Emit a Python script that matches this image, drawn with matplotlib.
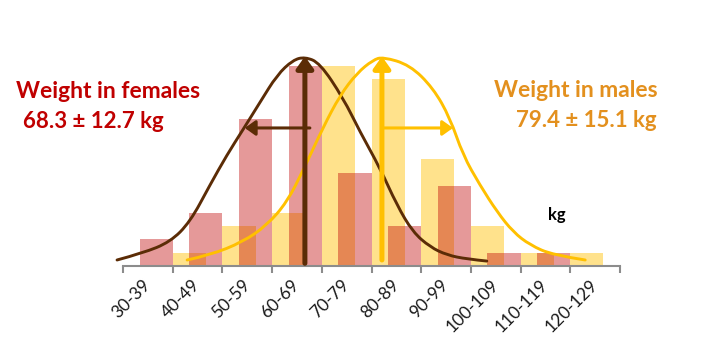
import matplotlib.pyplot as plt
from matplotlib.path import Path
from matplotlib.patches import PathPatch
import numpy as np

plt.rcParams['font.family'] = ['Lato', 'DejaVu Sans']

categories = ['30-39', '40-49', '50-59', '60-69', '70-79', '80-89',
              '90-99', '100-109', '110-119', '120-129']
females = [2, 4, 11, 15, 7, 3, 6, 1, 1, 0]
males = [0, 1, 3, 4, 15, 14, 8, 3, 1, 1]

# fitted curves as drawn (kg, count)
fem_curve_kg = [28.8, 34.0, 39.5, 43.5, 47.5, 50.9, 54.1, 57.6, 61.0, 64.2, 66.6,
                69.6, 74.3, 77.7, 81.7, 85.1, 88.3, 91.8, 95.2, 99.2, 103.2]
fem_curve_n = [0.45, 0.97, 1.80, 3.30, 6.07, 8.31, 10.19, 12.28, 14.31, 15.43, 15.66,
               15.21, 12.58, 10.04, 7.34, 4.57, 2.55, 1.42, 0.82, 0.52, 0.37]
male_curve_kg = [42.9, 47.5, 54.1, 59.0, 63.0, 66.3, 70.2, 73.7, 77.1, 80.3, 82.3,
                 87.7, 92.4, 95.8, 98.4, 101.8, 105.3, 108.5, 111.9, 116.5, 123.0]
male_curve_n = [0.45, 0.82, 1.80, 3.07, 4.79, 7.20, 10.34, 12.81, 14.46, 15.43, 15.66,
                15.06, 13.33, 11.09, 8.31, 6.07, 4.04, 2.55, 1.57, 0.82, 0.45]

# mean and +1 sd markers as drawn (kg)
fem_peak, fem_sd_end = 66.6, 54.5
male_peak, male_sd_end = 82.1, 96.4
sd_level = 10.34

brown = '#5B2C06'
gold = '#FFC000'

def pos(kg):
    return (np.array(kg) - 30) / 10.0

def smooth_line(xs, ys, col):
    pts = np.column_stack([xs, ys])
    verts = [pts[0]]
    codes = [Path.MOVETO]
    for i in range(1, len(pts) - 1):
        end = pts[i + 1] if i == len(pts) - 2 else (pts[i] + pts[i + 1]) / 2
        verts += [pts[i], end]
        codes += [Path.CURVE3, Path.CURVE3]
    ax.add_patch(PathPatch(Path(verts, codes), fill=False, edgecolor=col,
                           lw=2.1, capstyle='round'))

fig = plt.figure(figsize=(7.25, 3.54), dpi=100)
ax = fig.add_axes([100 / 725, 88 / 354, 550 / 725, 226 / 354])

idx = np.arange(len(categories))
ax.bar(idx, males, width=2 / 3, align='edge', color=gold, alpha=0.45, lw=0)
ax.bar(idx + 1 / 3, females, width=2 / 3, align='edge', color='#C00000', alpha=0.4, lw=0)

smooth_line(pos(fem_curve_kg), fem_curve_n, brown)
smooth_line(pos(male_curve_kg), male_curve_n, gold)

def arrow(x0, y0, x1, y1, col, lw, hw):
    ax.annotate('', xy=(x1, y1), xytext=(x0, y0),
                arrowprops=dict(arrowstyle='-|>,head_length=%s,head_width=%s' % (hw * 1.4, hw),
                                lw=lw, color=col, shrinkA=0, shrinkB=0, mutation_scale=10))

arrow(pos(fem_peak), 0.2, pos(fem_peak), 15.7, brown, 3.6, 0.5)
arrow(pos(fem_peak) + 0.1, sd_level, pos(fem_sd_end), sd_level, brown, 2.2, 0.45)
arrow(pos(male_peak), 0.45, pos(male_peak), 15.7, gold, 3.6, 0.5)
arrow(pos(male_peak) + 0.04, sd_level, pos(male_sd_end), sd_level, gold, 2.2, 0.45)

ax.set_xlim(-23 / 49.7, 527 / 49.7)
ax.set_ylim(0, 226 / 13.35)
for s in ['left', 'top', 'right']:
    ax.spines[s].set_visible(False)
ax.spines['bottom'].set_bounds(0, len(categories))
ax.spines['bottom'].set_color('#8C8C8C')
ax.spines['bottom'].set_linewidth(1.5)
ax.set_yticks([])
ax.set_xticks(idx + 0.5)
ax.set_xticklabels(categories, rotation=45, ha='right', va='center',
                   rotation_mode='anchor', fontsize=12.5, color='#1A1A1A')
ax.tick_params(axis='x', length=0, pad=12)
ax.set_xticks(np.arange(len(categories) + 1), minor=True)
ax.tick_params(axis='x', which='minor', length=5, width=1.5, color='#8C8C8C')

fig.text(16 / 725, 1 - 98 / 354, 'Weight in females', color='#C00000',
         fontsize=16.5, fontweight='bold', ha='left', va='baseline')
fig.text(23 / 725, 1 - 128 / 354, '68.3 \u00b1 12.7 kg', color='#C00000',
         fontsize=16, fontweight='bold', ha='left', va='baseline')
fig.text(658 / 725, 1 - 97 / 354, 'Weight in males', color='#E3901E',
         fontsize=16.5, fontweight='bold', ha='right', va='baseline')
fig.text(657 / 725, 1 - 127 / 354, '79.4 \u00b1 15.1 kg', color='#E3901E',
         fontsize=16, fontweight='bold', ha='right', va='baseline')
ax.text(pos(117.3), (266 - 220) / 13.35, 'kg', fontsize=12, fontweight='bold',
        color='black', ha='center', va='baseline')

fig.savefig('out.png', dpi=100)
